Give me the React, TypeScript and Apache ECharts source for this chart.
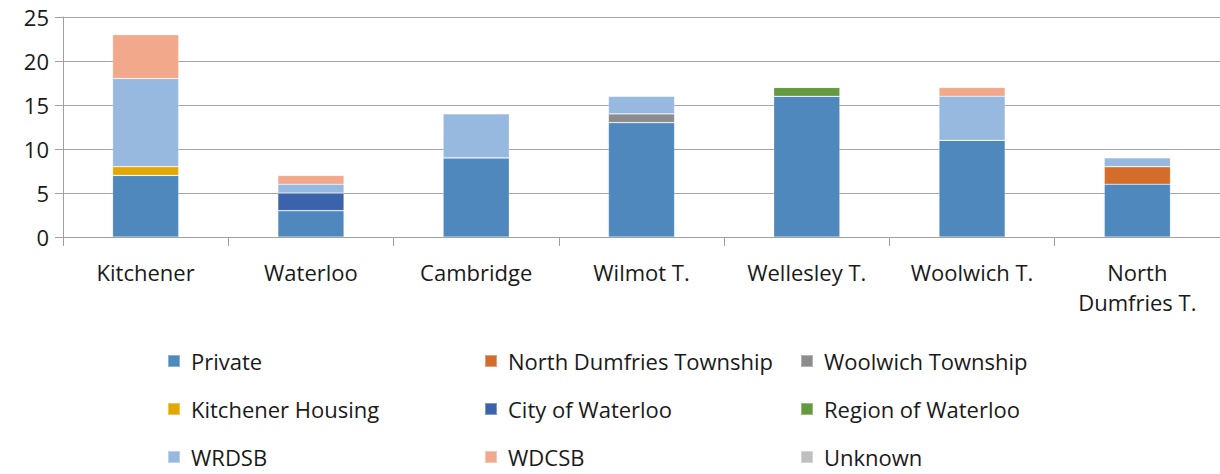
import React, { useEffect, useRef } from "react";
import * as echarts from "echarts";

const categories = ["Kitchener", "Waterloo", "Cambridge", "Wilmot T.", "Wellesley T.", "Woolwich T.", "North\nDumfries T."];

const seriesNames = [
  "Private",
  "North Dumfries Township",
  "Woolwich Township",
  "Kitchener Housing",
  "City of Waterloo",
  "Region of Waterloo",
  "WRDSB",
  "WDCSB",
  "Unknown",
];

const privateVals = [7, 3, 9, 13, 16, 11, 6];
const northDumfriesTwp = [0, 0, 0, 0, 0, 0, 2];
const woolwichTwp = [0, 0, 0, 1, 0, 0, 0];
const kitchenerHousing = [1, 0, 0, 0, 0, 0, 0];
const cityOfWaterloo = [0, 2, 0, 0, 0, 0, 0];
const regionOfWaterloo = [0, 0, 0, 0, 1, 0, 0];
const wrdsb = [10, 1, 5, 2, 0, 5, 1];
const wdcsb = [5, 1, 0, 0, 0, 1, 0];
const unknown = [0, 0, 0, 0, 0, 0, 0];

const seriesValues = [privateVals, northDumfriesTwp, woolwichTwp, kitchenerHousing, cityOfWaterloo, regionOfWaterloo, wrdsb, wdcsb, unknown];

const colors = ["#4F88BC", "#D46D2A", "#8C8C8C", "#E3A800", "#3B63AC", "#65993D", "#97B8DF", "#F2A98B", "#BFBFBF"];

const yTicks = { min: 0, max: 25, interval: 5 };

const legendColumns = [
  ["Private", "Kitchener Housing", "WRDSB"],
  ["North Dumfries Township", "City of Waterloo", "WDCSB"],
  ["Woolwich Township", "Region of Waterloo", "Unknown"],
];
const legendLefts = [162, 479, 795];

export default function App() {
  const ref = useRef<HTMLDivElement>(null);
  useEffect(() => {
    if (!ref.current) return;
    const chart = echarts.init(ref.current, null, { renderer: "svg" });
    const font = "'Open Sans', 'Noto Sans', sans-serif";
    chart.setOption({
      animation: false,
      color: colors,
      grid: { left: 63, top: 17, width: 1168, height: 220, containLabel: false },
      xAxis: {
        type: "category",
        data: categories,
        axisLine: { lineStyle: { color: "#A0A0A0", width: 1 } },
        axisTick: { show: true, length: 9, lineStyle: { color: "#A0A0A0" } },
        axisLabel: {
          color: "#1a1a1a",
          fontFamily: font,
          fontSize: 22,
          lineHeight: 30,
          margin: 20,
          interval: 0,
        },
      },
      yAxis: {
        type: "value",
        min: yTicks.min,
        max: yTicks.max,
        interval: yTicks.interval,
        axisLine: { show: true, lineStyle: { color: "#A0A0A0", width: 1 } },
        axisTick: { show: true, length: 8, lineStyle: { color: "#A0A0A0" } },
        splitLine: { show: true, lineStyle: { color: "#A6A6A6", width: 1 } },
        axisLabel: { color: "#1a1a1a", fontFamily: font, fontSize: 22, margin: 14 },
      },
      legend: legendColumns.map((col, i) => ({
        data: col,
        orient: "vertical",
        left: legendLefts[i],
        top: 345,
        height: 200,
        itemWidth: 12,
        itemHeight: 12,
        itemGap: 26,
        icon: "rect",
        selectedMode: false,
        textStyle: { color: "#1a1a1a", fontFamily: font, fontSize: 22, lineHeight: 20, padding: [0, 0, 0, 6] },
      })),
      series: seriesNames.map((name, i) => ({
        name,
        type: "bar",
        stack: "total",
        data: seriesValues[i],
        barWidth: "40%",
        itemStyle: { color: colors[i], borderColor: "rgba(255,255,255,0.35)", borderWidth: 0.6 },
      })),
    });
    return () => chart.dispose();
  }, []);
  return <div ref={ref} style={{ position: "absolute", left: 0, top: 0, width: 1220, height: 474 }} />;
}
